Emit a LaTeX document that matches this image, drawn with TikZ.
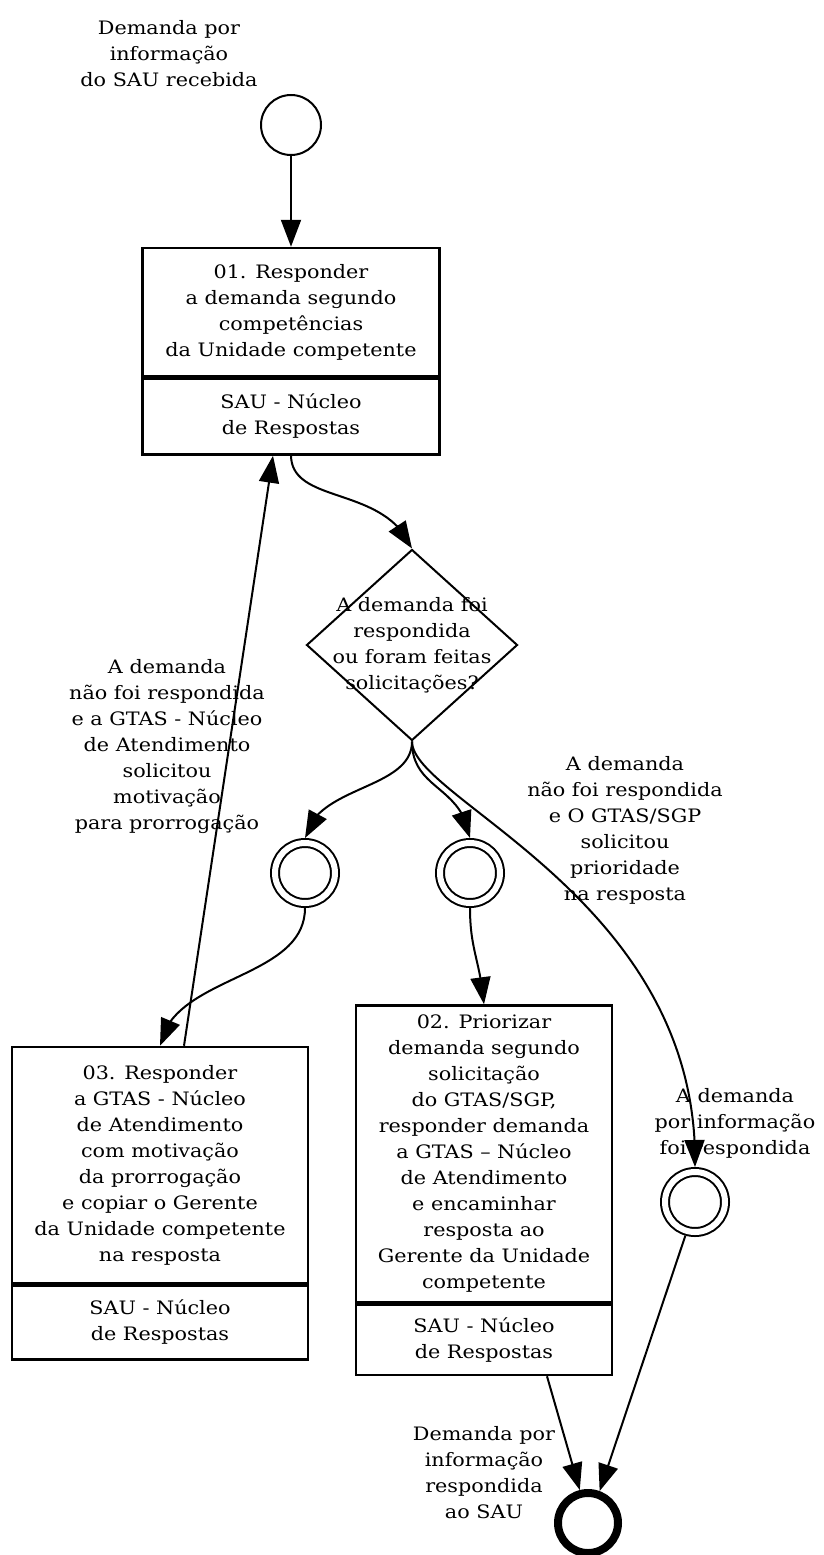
\documentclass[tikz,border=0pt]{standalone}
\usepackage{fontspec}
\setmainfont[FakeStretch=1.12]{DejaVu Serif}
\usetikzlibrary{arrows.meta,bending,shapes.geometric,positioning}

\tikzset{
  every node/.style={align=center, font=\fontsize{18.5}{26}\selectfont},
  flow/.style={line width=2pt, -{Triangle[length=27pt,width=20pt,flex]}},
  taskbox/.style={draw, line width=2.5pt, minimum width=297pt, inner sep=0pt},
  event/.style={circle, draw, line width=2pt, minimum size=60pt, inner sep=0pt},
  midevent/.style={circle, draw, line width=2pt, double, double distance=6pt,
    minimum size=60pt, inner sep=0pt, outer sep=5pt},
  endevent/.style={circle, draw, line width=8pt, minimum size=60pt, inner sep=0pt},
  gateway/.style={diamond, draw, line width=2pt, minimum width=211pt,
    minimum height=191pt, inner sep=0pt},
  lbl/.style={inner sep=0pt}
}

\begin{document}
\begin{tikzpicture}[x=1pt,y=-1pt]
  \useasboundingbox (0,0) rectangle (823,1555);
  % Events
  \node[event] (inicio) at (291,125) {};
  \node[lbl] (inicioTxt) at (169,54) {Demanda por\\informação\\do SAU recebida};
  \node[midevent] (ev1) at (305,873) {};
  \node[midevent] (ev2) at (470,873) {};
  \node[midevent] (ev3) at (695,1202) {};
  \node[lbl] (ev3Txt) at (735,1123) {A demanda\\por informação\\foi respondida};
  \node[endevent] (fim) at (588,1523) {};
  \node[lbl] (fimTxt) at (484,1473) {Demanda por\\informação\\respondida\\ao SAU};
  % Tasks
  \node[taskbox, minimum height=128pt] (t01) at (291,312)
    {01. Responder\\a demanda segundo\\competências\\da Unidade competente};
  \node[taskbox, minimum height=76pt, below=0pt of t01] (r01)
    {SAU - Núcleo\\de Respostas};
  \node[taskbox, minimum width=256pt, minimum height=297pt] (t02) at (484,1154)
    {02. Priorizar\\demanda segundo\\solicitação\\do GTAS/SGP,\\responder demanda\\a GTAS – Núcleo\\de Atendimento\\e encaminhar\\resposta ao\\Gerente da Unidade\\competente};
  \node[taskbox, minimum width=256pt, minimum height=70pt, below=0pt of t02] (r02)
    {SAU - Núcleo\\de Respostas};
  \node[taskbox, minimum width=296pt, minimum height=236pt] (t03) at (160,1165)
    {03. Responder\\a GTAS - Núcleo\\de Atendimento\\com motivação\\da prorrogação\\e copiar o Gerente\\da Unidade competente\\na resposta};
  \node[taskbox, minimum width=296pt, minimum height=74pt, below=0pt of t03] (r03)
    {SAU - Núcleo\\de Respostas};
  % Gateway
  \node[gateway, label={[lbl]center:{A demanda foi\\respondida\\ou foram feitas\\solicitações?}}]
    (decisao) at (412,645) {};
  % Conditions
  \node[lbl] (condMotivo) at (167,747)
    {A demanda\\não foi respondida\\e a GTAS - Núcleo\\de Atendimento\\solicitou\\motivação\\para prorrogação};
  \node[lbl] (condPrior) at (625,830)
    {A demanda\\não foi respondida\\e O GTAS/SGP\\solicitou\\prioridade\\na resposta};
  % Flows
  \draw[flow] (inicio) -- (t01);
  \draw[flow] (r01.south) .. controls (292,505) and (385,485) .. (decisao.north);
  \draw[flow] (decisao.south) .. controls (412,790) and (316,785) .. (ev1.north);
  \draw[flow] (decisao.south) .. controls (412,790) and (462,785) .. (ev2.north);
  \draw[flow] (decisao.south) .. controls (412,800) and (700,900) .. (ev3.north);
  \draw[flow] (ev1.south) .. controls (305,980) and (172,975) .. (t03.north);
  \draw[flow] ([xshift=24pt]t03.north) -- ([xshift=-18pt]r01.south);
  \draw[flow] (ev2.south) .. controls (470,950) and (480,960) .. (t02.north);
  \draw[flow] ([xshift=63pt]r02.south) -- (fim.104);
  \draw[flow] (ev3.254) -- (fim.70);
\end{tikzpicture}
\end{document}
